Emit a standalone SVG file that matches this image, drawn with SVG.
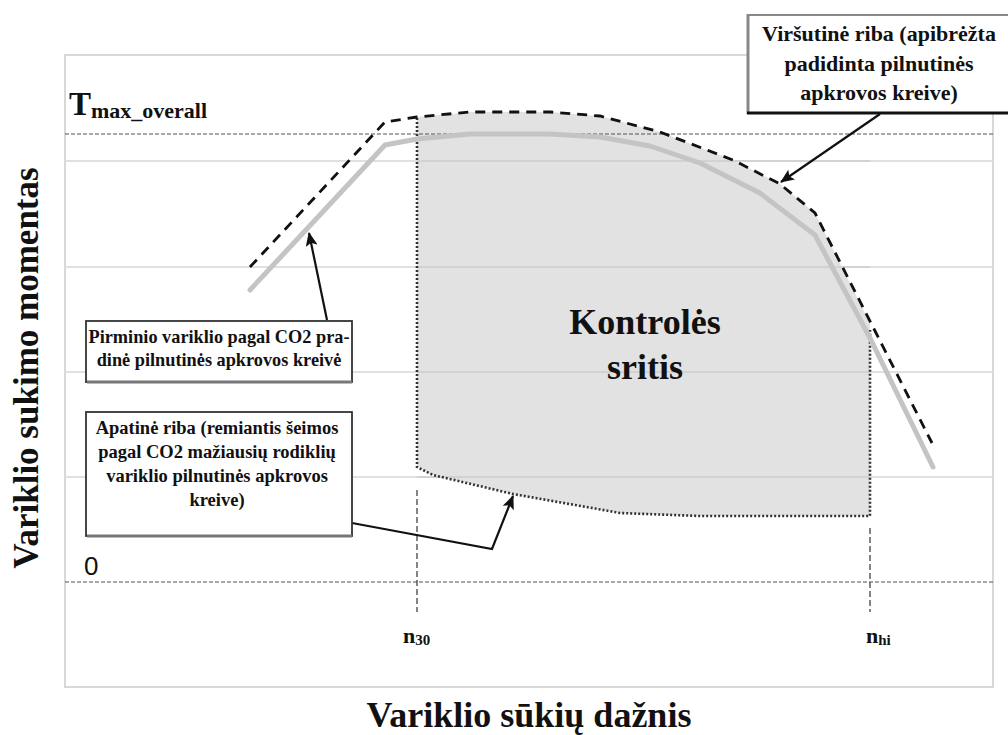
<svg xmlns="http://www.w3.org/2000/svg" width="1008" height="735" viewBox="0 0 1008 735">
<style>
.grid{stroke:#e0e0e0;stroke-width:2;fill:none}
.refline{stroke:#555;stroke-width:1.2;stroke-dasharray:4 2;fill:none}
.dot{stroke:#333;stroke-width:2.6;stroke-dasharray:2 2;fill:none}
.vdash{stroke:#444;stroke-width:1.3;stroke-dasharray:6 3;fill:none}
.upper{stroke:#111;stroke-width:2.8;stroke-dasharray:10 7;fill:none}
.base{stroke:#c4c4c4;stroke-width:5;fill:none;stroke-linejoin:round;stroke-linecap:round}
.box{fill:#fff;stroke:#333;stroke-width:1.8}
.conn{stroke:#111;stroke-width:2.2;fill:none}
</style>
<defs>
<marker id="ah" markerUnits="userSpaceOnUse" markerWidth="14" markerHeight="12" refX="13" refY="6" orient="auto">
<path d="M0,0 L14,6 L0,12 L3,6 Z" fill="#111"/>
</marker>
</defs>
<rect x="0" y="0" width="1008" height="735" fill="#fff"/>
<g id="plot">
<rect x="65" y="55" width="928" height="632" fill="#fff" stroke="#d8d8d8" stroke-width="2"/>
<line class="grid" x1="65" y1="161" x2="993" y2="161"/>
<line class="grid" x1="65" y1="267" x2="993" y2="267"/>
<line class="grid" x1="65" y1="372" x2="993" y2="372"/>
<line class="grid" x1="65" y1="477" x2="993" y2="477"/>
</g>
<g id="control-area">
<path d="M417,117 L470,112 L550,112 L600,116 L660,132 L733,160 L780,184 L815,213 L870,323 L870,516 L700,516 L620,513 L513,494 L433,475 L417,467 Z" fill="#e2e2e2"/>
<line x1="417" y1="161" x2="870" y2="161" stroke="#d2d2d2" stroke-width="2"/>
<line x1="417" y1="267" x2="870" y2="267" stroke="#d2d2d2" stroke-width="2"/>
<line x1="417" y1="372" x2="870" y2="372" stroke="#d2d2d2" stroke-width="2"/>
<line x1="417" y1="477" x2="870" y2="477" stroke="#d2d2d2" stroke-width="2"/>
<path class="dot" d="M417,118 L417,467 L433,475 L513,494 L620,513 L700,516 L870,516 L870,330"/>
<text x="645" y="334" font-family="Liberation Serif" font-weight="bold" fill="#111" font-size="36" text-anchor="middle">Kontrolės</text>
<text x="645" y="379" font-family="Liberation Serif" font-weight="bold" fill="#111" font-size="36" text-anchor="middle">sritis</text>
</g>
<g id="ref-lines">
<line class="refline" x1="65" y1="134" x2="993" y2="134"/>
<line class="refline" x1="65" y1="582" x2="993" y2="582"/>
<line class="vdash" x1="417" y1="490" x2="417" y2="612"/>
<line class="vdash" x1="870" y1="528" x2="870" y2="612"/>
</g>
<g id="base-curve">
<polyline class="base" points="250,290 385,145 417,139 470,134 550,134 600,137 650,146 700,163 760,193 815,235 870,338 933,467"/>
</g>
<g id="upper-curve">
<polyline class="upper" points="250,267 385,122 417,117 470,112 550,112 600,116 660,132 733,160 780,184 815,213 932,443"/>
</g>
<g id="connectors">
<line class="conn" x1="327" y1="320" x2="309" y2="233" marker-end="url(#ah)"/>
<polyline class="conn" points="352,523 492,549 513,496" marker-end="url(#ah)"/>
<line class="conn" x1="880" y1="114" x2="781" y2="182" marker-end="url(#ah)"/>
</g>
<g id="label-primary" font-family="Liberation Serif" font-weight="bold" fill="#111">
<rect class="box" x="86" y="321" width="266" height="61"/>
<line x1="87" y1="382" x2="352" y2="382" stroke="#777" stroke-width="3"/>
<text x="219" y="343" font-size="18.3" text-anchor="middle">Pirminio variklio pagal CO2 pra-</text>
<text x="219" y="366" font-size="18.3" text-anchor="middle">dinė pilnutinės apkrovos kreivė</text>
</g>
<g id="label-lower" font-family="Liberation Serif" font-weight="bold" fill="#111">
<rect class="box" x="86" y="412" width="266" height="124"/>
<line x1="87" y1="536" x2="352" y2="536" stroke="#777" stroke-width="3"/>
<text x="217" y="434" font-size="18.5" text-anchor="middle">Apatinė riba (remiantis šeimos</text>
<text x="217" y="458" font-size="18.5" text-anchor="middle">pagal CO2 mažiausių rodiklių</text>
<text x="217" y="482" font-size="18.5" text-anchor="middle">variklio pilnutinės apkrovos</text>
<text x="217" y="506" font-size="18.5" text-anchor="middle">kreive)</text>
</g>
<g id="label-upper" font-family="Liberation Serif" font-weight="bold" fill="#111">
<rect x="748" y="15" width="266" height="98" fill="#fff" stroke="#888" stroke-width="2"/>
<line x1="748" y1="14" x2="748" y2="114" stroke="#888" stroke-width="3"/>
<line x1="747" y1="113" x2="1008" y2="113" stroke="#111" stroke-width="3"/>
<text x="879" y="41" font-size="22" text-anchor="middle">Viršutinė riba (apibrėžta</text>
<text x="879" y="71" font-size="22" text-anchor="middle">padidinta pilnutinės</text>
<text x="879" y="100" font-size="22" text-anchor="middle">apkrovos kreive)</text>
</g>
<g id="axis-labels" font-family="Liberation Serif" fill="#111">
<text x="69" y="115" font-size="33" font-weight="bold">T<tspan font-size="22" dy="3">max_overall</tspan></text>
<text x="84" y="575" font-family="Liberation Sans" font-size="26">0</text>
<text x="403" y="643" font-size="22" font-weight="bold">n<tspan font-size="15" dy="2">30</tspan></text>
<text x="866" y="643" font-size="22" font-weight="bold">n<tspan font-size="15" dy="2">hi</tspan></text>
<text x="529" y="727" font-size="36" font-weight="bold" text-anchor="middle">Variklio sūkių dažnis</text>
<text transform="translate(38,368) rotate(-90)" x="0" y="0" font-size="35" font-weight="bold" text-anchor="middle">Variklio sukimo momentas</text>
</g>
</svg>
